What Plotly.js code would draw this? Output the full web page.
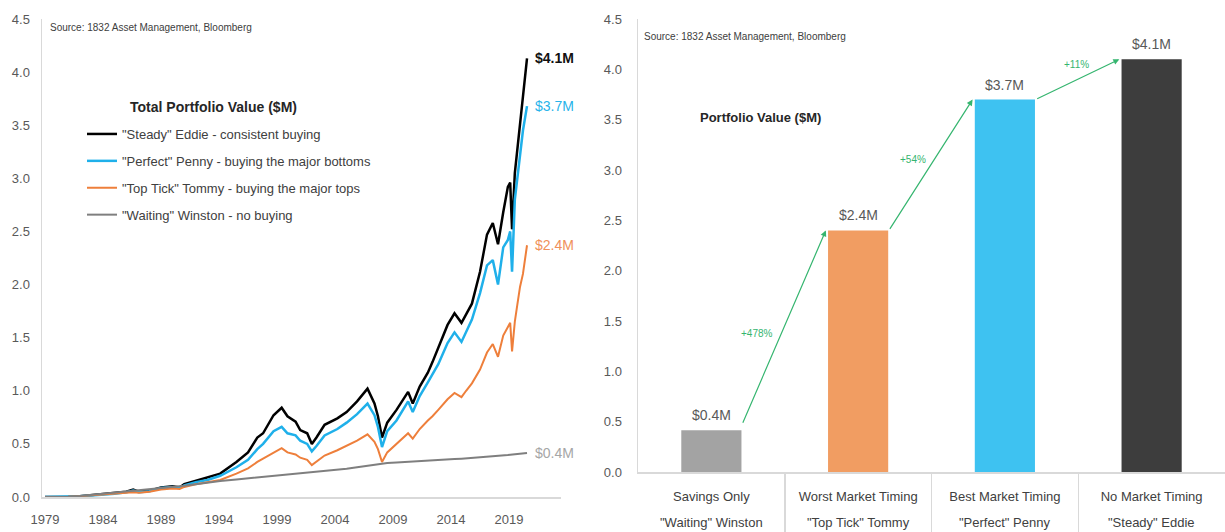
<!DOCTYPE html>
<html><head><meta charset="utf-8">
<script src="https://cdn.plot.ly/plotly-3.0.1.min.js"></script>
<style>html,body{margin:0;padding:0;background:#fff;}#chart{width:1225px;height:532px;}</style>
</head><body><div id="chart"></div>
<script>
// ---------- Left chart data (values in $M) ----------
const years = [1979.0,1980.0,1981.0,1982.0,1983.0,1984.0,1985.0,1986.0,1986.6,1987.1,1988.0,1989.0,1990.0,1990.6,1991.0,1992.0,1993.0,1994.1,1995.5,1996.5,1997.3,1997.8,1998.7,1999.4,1999.9,2000.6,2001.0,2001.6,2002.0,2002.4,2003.1,2004.2,2005.0,2005.9,2006.8,2007.4,2007.7,2008.05,2008.5,2009.3,2010.3,2010.7,2011.3,2012.0,2012.4,2012.9,2013.7,2014.3,2014.9,2015.3,2015.8,2016.5,2017.1,2017.6,2018.05,2018.5,2018.9,2019.1,2019.26,2019.5,2019.7,2019.95,2020.2,2020.55];
const eddie = [0,0,0.002,0.008,0.018,0.025,0.035,0.05,0.07,0.05,0.06,0.09,0.1,0.09,0.12,0.15,0.18,0.22,0.33,0.42,0.56,0.6,0.77,0.84,0.76,0.71,0.63,0.6,0.5,0.56,0.68,0.74,0.8,0.9,1.02,0.88,0.76,0.56,0.7,0.82,0.99,0.88,1.04,1.17,1.27,1.41,1.62,1.73,1.64,1.72,1.82,2.12,2.47,2.58,2.38,2.68,2.92,2.96,2.52,3.05,3.24,3.48,3.77,4.13];
const penny = [0,0,0.002,0.007,0.015,0.022,0.03,0.045,0.06,0.045,0.055,0.085,0.095,0.085,0.11,0.14,0.16,0.2,0.28,0.35,0.45,0.5,0.62,0.66,0.6,0.58,0.53,0.5,0.43,0.48,0.58,0.64,0.7,0.78,0.88,0.77,0.66,0.47,0.62,0.72,0.9,0.8,0.95,1.08,1.15,1.25,1.45,1.55,1.46,1.55,1.67,1.92,2.18,2.23,2.0,2.35,2.42,2.5,2.12,2.8,3.0,3.2,3.45,3.68];
const tommy = [0,0,0.002,0.008,0.017,0.025,0.033,0.04,0.045,0.04,0.05,0.07,0.08,0.075,0.095,0.12,0.14,0.16,0.22,0.27,0.33,0.36,0.42,0.46,0.42,0.4,0.37,0.35,0.3,0.33,0.39,0.44,0.48,0.53,0.59,0.52,0.45,0.33,0.42,0.5,0.6,0.55,0.64,0.72,0.76,0.82,0.92,0.98,0.94,1.0,1.07,1.2,1.36,1.44,1.32,1.52,1.6,1.64,1.37,1.65,1.8,1.98,2.1,2.37];
const winston = [0,0,0.002,0.01,0.02,0.03,0.04,0.05,0.055,0.06,0.07,0.08,0.09,0.1,0.105,0.12,0.135,0.15,0.165,0.175,0.185,0.19,0.2,0.21,0.215,0.22,0.225,0.23,0.235,0.24,0.245,0.255,0.265,0.28,0.295,0.305,0.31,0.315,0.32,0.325,0.33,0.333,0.337,0.342,0.345,0.348,0.353,0.357,0.361,0.364,0.367,0.372,0.377,0.381,0.385,0.39,0.395,0.398,0.4,0.403,0.406,0.41,0.413,0.415];
const seriesNames = ['"Steady" Eddie - consistent buying','"Perfect" Penny - buying the major bottoms','"Top Tick" Tommy - buying the major tops','"Waiting" Winston - no buying'];
const endLabels = ['$4.1M','$3.7M','$2.4M','$0.4M'];
const xTickYears = [1979,1984,1989,1994,1999,2004,2009,2014,2019];

// ---------- Right chart data ----------
const barCategories = ['Savings Only','Worst Market Timing','Best Market Timing','No Market Timing'];
const barNames = ['"Waiting" Winston','"Top Tick" Tommy','"Perfect" Penny','"Steady" Eddie'];
const barValues = [0.415, 2.4, 3.7, 4.1];
const barLabels = ['$0.4M','$2.4M','$3.7M','$4.1M'];
const pctLabels = ['+478%','+54%','+11%'];

// ---------- Styles ----------
const FONT = 'Liberation Sans, Arial, Helvetica, sans-serif';
const lineColors = ['#000000','#1fb0ea','#ee7f3b','#7f7f7f'];
const lineWidths = [2.5,2.5,2,2];
const endLabelColors = ['#111111','#27b3ea','#f0905a','#a6a6a6'];
const barColors = ['#a3a3a3','#f19d62','#3ec2f1','#3d3d3d'];
const green = '#35b56f';
const axisGray = '#d9d9d9';
const tickFont = {family: FONT, size: 13, color: '#595959'};
const W = 1225, H = 532;
const px = v => v / W, py = v => 1 - v / H;

const series = [eddie, penny, tommy, winston];
const traces = series.map((s, i) => ({
  type: 'scatter', mode: 'lines', x: years, y: s, name: seriesNames[i],
  line: {color: lineColors[i], width: lineWidths[i]},
  xaxis: 'x', yaxis: 'y', legendgroup: 'g' + i, hoverinfo: 'skip'
}));
traces.push({
  type: 'bar', x: barCategories, y: barValues, xaxis: 'x2', yaxis: 'y2',
  marker: {color: barColors}, width: 0.41, showlegend: false, hoverinfo: 'skip'
});
// internal category boundaries (dividers below the bar chart axis)
const bounds = barCategories.slice(1).map((c, i) => i + 0.5);
// invisible helper trace so the category-divider axis is drawn
traces.push({type: 'scatter', mode: 'markers', x: bounds, y: bounds.map(() => null), xaxis: 'x3', yaxis: 'y2',
  showlegend: false, hoverinfo: 'skip', marker: {opacity: 0}});

const annotations = [];
annotations.push({xref: 'paper', yref: 'paper', x: px(48), y: py(28), xanchor: 'left', yanchor: 'middle',
  text: 'Source: 1832 Asset Management, Bloomberg', showarrow: false, font: {family: FONT, size: 10, color: '#404040'}});
annotations.push({xref: 'paper', yref: 'paper', x: px(642), y: py(36), xanchor: 'left', yanchor: 'middle',
  text: 'Source: 1832 Asset Management, Bloomberg', showarrow: false, font: {family: FONT, size: 10, color: '#404040'}});
annotations.push({xref: 'paper', yref: 'paper', x: px(213), y: py(107), xanchor: 'center', yanchor: 'middle',
  text: '<b>Total Portfolio Value ($M)</b>', showarrow: false, font: {family: FONT, size: 14, color: '#262626'}});
annotations.push({xref: 'paper', yref: 'paper', x: px(760), y: py(117), xanchor: 'center', yanchor: 'middle',
  text: '<b>Portfolio Value ($M)</b>', showarrow: false, font: {family: FONT, size: 13, color: '#262626'}});
// end labels left chart
series.forEach((s, i) => {
  annotations.push({xref: 'x', yref: 'y', x: years[years.length - 1], y: s[s.length - 1], xanchor: 'left', yanchor: 'middle',
    xshift: 6, text: i === 0 ? '<b>' + endLabels[i] + '</b>' : endLabels[i], showarrow: false,
    font: {family: FONT, size: 14, color: endLabelColors[i]}});
});
// bar value labels and second-line names
barCategories.forEach((c, i) => {
  annotations.push({xref: 'x2', yref: 'y2', x: i, y: barValues[i], yanchor: 'bottom', yshift: 5,
    text: barLabels[i], showarrow: false, font: {family: FONT, size: 14, color: '#595959'}});
  annotations.push({xref: 'x2', yref: 'paper', x: i, y: py(522), yanchor: 'middle',
    text: barNames[i], showarrow: false, font: {family: FONT, size: 13, color: '#404040'}});
});
// arrows and percentage labels
const pctShift = [[-27, -6], [-18, 5], [-1, 15]];
for (let i = 0; i < 3; i++) {
  const tailX = i + 0.21, tailY = barValues[i] + (i === 0 ? 0.06 : 0);
  const headX = i + 1 - 0.22, headY = barValues[i + 1];
  annotations.push({xref: 'x2', yref: 'y2', axref: 'x2', ayref: 'y2', x: headX, y: headY, ax: tailX, ay: tailY,
    showarrow: true, arrowhead: 2, arrowsize: 1, arrowwidth: 1.2, arrowcolor: green, text: ''});
  annotations.push({xref: 'x2', yref: 'y2', x: (tailX + headX) / 2, y: (tailY + headY) / 2,
    xshift: pctShift[i][0], yshift: pctShift[i][1], text: pctLabels[i], showarrow: false,
    font: {family: FONT, size: 10, color: green}});
}

const layout = {
  width: W, height: H, margin: {l: 0, r: 0, t: 0, b: 0},
  paper_bgcolor: '#fff', plot_bgcolor: 'rgba(0,0,0,0)',
  font: {family: FONT},
  showlegend: true,
  legend: {x: px(82), y: py(119), xanchor: 'left', yanchor: 'top', bgcolor: 'rgba(0,0,0,0)',
    font: {family: FONT, size: 13, color: '#404040'}, traceorder: 'grouped', tracegroupgap: 7},
  xaxis: {domain: [px(42), px(561)], range: [1978.74, 2023.48], anchor: 'y', showline: true, linecolor: axisGray, linewidth: 1.5,
    tickvals: xTickYears, ticks: '', showgrid: false, zeroline: false, tickfont: tickFont, ticklabelstandoff: 10},
  yaxis: {domain: [1 - 497 / H, 1 - 19 / H], range: [0, 4.5], dtick: 0.5, tick0: 0, tickformat: '.1f', anchor: 'x', showline: true,
    linecolor: axisGray, linewidth: 1.5, ticks: '', showgrid: false, zeroline: false, tickfont: tickFont, ticklabelstandoff: 8},
  xaxis2: {domain: [px(638), 1], type: 'category', range: [-0.5, 3.5], anchor: 'y2', showline: true, linecolor: axisGray, linewidth: 1.5,
    ticks: '', showgrid: false, zeroline: false, tickfont: {family: FONT, size: 13, color: '#404040'}, ticklabelstandoff: 12},
  xaxis3: {domain: [px(638), 1], overlaying: 'x2', anchor: 'y2', side: 'bottom', type: 'linear', range: [-0.5, 3.5], tickmode: 'array',
    tickvals: bounds, ticks: 'outside', ticklen: 60, tickcolor: axisGray, tickwidth: 1.5, showticklabels: false,
    showline: false, showgrid: false, zeroline: false},
  yaxis2: {domain: [1 - 472 / H, 1 - 19 / H], range: [0, 4.5], dtick: 0.5, tick0: 0, tickformat: '.1f', anchor: 'x2', showline: true,
    linecolor: axisGray, linewidth: 1.5, ticks: '', showgrid: false, zeroline: false, tickfont: tickFont, ticklabelstandoff: 12},
  annotations: annotations
};

Plotly.newPlot('chart', traces, layout, {staticPlot: true, displayModeBar: false});
</script></body></html>
